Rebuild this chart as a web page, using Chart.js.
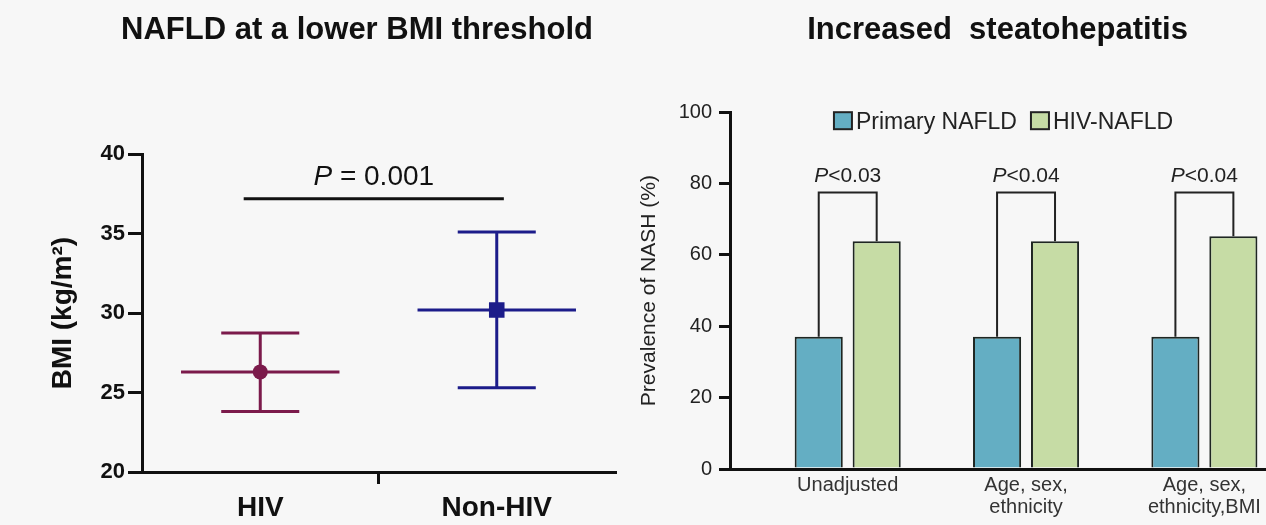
<!DOCTYPE html>
<html>
<head>
<meta charset="utf-8">
<script src="https://cdn.jsdelivr.net/npm/chart.js@4.4.1/dist/chart.umd.min.js"></script>
<style>
  html, body { margin: 0; padding: 0; background: #f7f7f7; }
  #wrap { position: relative; width: 1266px; height: 525px; overflow: hidden; }
  #bmi_chart { position: absolute; left: 0; top: 0; }
  #nash_chart { position: absolute; left: 620px; top: 0; }
</style>
</head>
<body>
<div id="wrap">
  <canvas id="bmi_chart" width="730" height="525"></canvas>
  <canvas id="nash_chart" width="646" height="525"></canvas>
</div>
<script>
const FONT = "'Liberation Sans', Arial, sans-serif";

// Left panel: BMI mean with spread
const bmiGroups = ['HIV', 'Non-HIV'];
const bmiMean = [26.3, 30.2];
const bmiLow = [23.8, 25.3];
const bmiHigh = [28.75, 35.1];
const bmiColors = ['#7b1a4b', '#1c1c8a'];
const bmiMarkers = ['circle', 'rect'];
const bmiPText = ' = 0.001';
const bmiPLevel = 37.2;

// Right panel: prevalence of NASH
const nashLabels = [['Unadjusted'], ['Age, sex,', 'ethnicity'], ['Age, sex,', 'ethnicity,BMI']];
const primaryNafld = [37.1, 37.1, 37.1];
const hivNafld = [63.8, 63.8, 65.2];
const nashP = ['<0.03', '<0.04', '<0.04'];
const nashBracket = 77.5;

Chart.defaults.font.family = FONT;
Chart.defaults.color = '#111';

// "P" in italics, rest upright, centred on cx
function drawP(ctx, cx, baseline, rest, size, color) {
    ctx.save();
    ctx.fillStyle = color;
    ctx.textBaseline = 'alphabetic';
    ctx.textAlign = 'left';
    ctx.font = `italic ${size}px ${FONT}`;
    const wp = ctx.measureText('P').width;
    ctx.font = `${size}px ${FONT}`;
    const wr = ctx.measureText(rest).width;
    const x = cx - (wp + wr) / 2;
    ctx.font = `italic ${size}px ${FONT}`;
    ctx.fillText('P', x, baseline);
    ctx.font = `${size}px ${FONT}`;
    ctx.fillText(rest, x + wp, baseline);
    ctx.restore();
}

const errorBars = {
    id: 'errorBars',
    beforeDatasetsDraw(chart) {
        const { ctx, scales: { x, y } } = chart;
        const cw = x.width / bmiGroups.length;
        ctx.save();
        ctx.lineWidth = 3;
        bmiGroups.forEach((g, i) => {
            const px = x.getPixelForValue(i);
            const pm = y.getPixelForValue(bmiMean[i]);
            const plo = y.getPixelForValue(bmiLow[i]);
            const phi = y.getPixelForValue(bmiHigh[i]);
            ctx.strokeStyle = bmiColors[i];
            ctx.beginPath();
            ctx.moveTo(px - cw * 0.335, pm); ctx.lineTo(px + cw * 0.335, pm);
            ctx.moveTo(px, plo); ctx.lineTo(px, phi);
            ctx.moveTo(px - cw * 0.165, plo); ctx.lineTo(px + cw * 0.165, plo);
            ctx.moveTo(px - cw * 0.165, phi); ctx.lineTo(px + cw * 0.165, phi);
            ctx.stroke();
        });
        // significance line
        const ly = y.getPixelForValue(bmiPLevel);
        const x0 = x.getPixelForValue(0) - cw * 0.07;
        const x1 = x.getPixelForValue(1) + cw * 0.03;
        ctx.strokeStyle = '#111';
        ctx.beginPath();
        ctx.moveTo(x0, ly); ctx.lineTo(x1, ly);
        ctx.stroke();
        ctx.restore();
        drawP(ctx, (x0 + x1) / 2, ly - 14, bmiPText, 28, '#111');
    }
};

const brackets = {
    id: 'brackets',
    afterDatasetsDraw(chart) {
        const { ctx, scales: { y } } = chart;
        const a = chart.getDatasetMeta(0).data;
        const b = chart.getDatasetMeta(1).data;
        const top = y.getPixelForValue(nashBracket);
        ctx.save();
        ctx.strokeStyle = '#222';
        ctx.lineWidth = 2;
        nashP.forEach((p, i) => {
            ctx.beginPath();
            ctx.moveTo(a[i].x, a[i].y);
            ctx.lineTo(a[i].x, top);
            ctx.lineTo(b[i].x, top);
            ctx.lineTo(b[i].x, b[i].y);
            ctx.stroke();
            drawP(ctx, (a[i].x + b[i].x) / 2, top - 10, p, 21, '#222');
        });
        ctx.restore();
    }
};

// legend drawn inside the plot area, near the top
const insideLegend = {
    id: 'insideLegend',
    afterDraw(chart) {
        const { ctx, chartArea } = chart;
        const sets = chart.data.datasets;
        const box = 18, gapText = 4, gapItem = 14;
        ctx.save();
        ctx.font = `23px ${FONT}`;
        const widths = sets.map(d => box + gapText + ctx.measureText(d.label).width);
        const total = widths.reduce((s, w) => s + w, 0) + gapItem * (sets.length - 1);
        let x = (chartArea.left + chartArea.right) / 2 - total / 2 + 6;
        const cy = chartArea.top + 9;
        sets.forEach((d, i) => {
            ctx.fillStyle = d.backgroundColor;
            ctx.fillRect(x, cy - box / 2, box, box - 1);
            ctx.strokeStyle = '#222';
            ctx.lineWidth = 2;
            ctx.strokeRect(x, cy - box / 2, box, box - 1);
            ctx.fillStyle = '#222';
            ctx.textBaseline = 'middle';
            ctx.fillText(d.label, x + box + gapText, cy + 1);
            x += widths[i] + gapItem;
        });
        ctx.restore();
    }
};

new Chart(document.getElementById('bmi_chart'), {
    type: 'line',
    data: {
        labels: bmiGroups,
        datasets: [{
            data: bmiMean,
            showLine: false,
            pointStyle: bmiMarkers,
            pointRadius: [7.5, 11],
            pointBackgroundColor: bmiColors,
            pointBorderColor: bmiColors,
            pointBorderWidth: 0,
        }],
    },
    options: {
        responsive: false,
        animation: false,
        events: [],
        layout: { padding: { left: 20, right: 36, top: 0, bottom: 0 } },
        plugins: {
            legend: { display: false },
            tooltip: { enabled: false },
            title: {
                display: true,
                text: 'NAFLD at a lower BMI threshold',
                color: '#111',
                font: { size: 31, weight: 'bold' },
                padding: { top: 12, bottom: 105 },
            },
        },
        scales: {
            x: {
                offset: true,
                afterFit: (s) => { s.height = 53; },
                border: { color: '#111', width: 3 },
                grid: {
                    offset: true,
                    drawOnChartArea: false,
                    tickLength: 12,
                    lineWidth: 3,
                    color: (c) => c.index === 1 ? '#111' : 'rgba(0,0,0,0)',
                },
                ticks: { font: { size: 28, weight: 'bold' }, color: '#111', padding: 7 },
            },
            y: {
                min: 20,
                max: 40,
                afterFit: (s) => { s.width = 122; },
                border: { color: '#111', width: 3 },
                grid: { drawOnChartArea: false, tickLength: 14, lineWidth: 3, color: '#111' },
                ticks: { stepSize: 5, font: { size: 22, weight: 'bold' }, color: '#111', padding: 3 },
                title: {
                    display: true,
                    text: 'BMI (kg/m²)',
                    color: '#111',
                    font: { size: 28, weight: 'bold' },
                    padding: { top: 26, bottom: 22 },
                },
            },
            // empty spacer on the right so the title centres over the whole panel
            spacer: {
                type: 'linear',
                position: 'right',
                afterFit: (s) => { s.width = 79; },
                border: { display: false },
                grid: { display: false, drawTicks: false },
                ticks: { display: false },
            },
        },
    },
    plugins: [errorBars],
});

new Chart(document.getElementById('nash_chart'), {
    type: 'bar',
    data: {
        datasets: [
            {
                label: 'Primary NAFLD',
                data: primaryNafld.map((v, i) => ({ x: i, y: v })),
                backgroundColor: '#64aec3',
                borderColor: '#1e2622',
                borderWidth: 2,
            },
            {
                label: 'HIV-NAFLD',
                data: hivNafld.map((v, i) => ({ x: i, y: v })),
                backgroundColor: '#c6dca5',
                borderColor: '#1e2622',
                borderWidth: 2,
            },
        ],
    },
    options: {
        responsive: false,
        animation: false,
        events: [],
        layout: { padding: { left: 0, right: 0, top: 0, bottom: 0 } },
        datasets: { bar: { categoryPercentage: 0.65, barPercentage: 0.83 } },
        plugins: {
            legend: { display: false },
            tooltip: { enabled: false },
            title: {
                display: true,
                fullSize: false,
                text: 'Increased  steatohepatitis',
                color: '#111',
                font: { size: 31, weight: 'bold' },
                padding: { top: 12, bottom: 63 },
            },
        },
        scales: {
            x: {
                type: 'linear',
                offset: false,
                min: -0.66,
                max: 2.34,
                afterBuildTicks: (s) => { s.ticks = nashLabels.map((l, i) => ({ value: i })); },
                afterFit: (s) => { s.height = 56; },
                border: { color: '#111', width: 3 },
                grid: { display: false, drawTicks: false },
                ticks: {
                    callback: (v) => nashLabels[v],
                    font: { size: 20, lineHeight: 1.1 },
                    color: '#333',
                    padding: 5,
                    autoSkip: false,
                    maxRotation: 0,
                },
            },
            y: {
                min: 0,
                max: 100,
                afterFit: (s) => { s.width = 110; },
                border: { color: '#111', width: 3 },
                grid: { drawOnChartArea: false, tickLength: 11, lineWidth: 3, color: '#111' },
                ticks: { stepSize: 20, font: { size: 20 }, color: '#222', padding: 7 },
                title: {
                    display: true,
                    text: 'Prevalence of NASH (%)',
                    color: '#222',
                    font: { size: 21 },
                    padding: { top: 17, bottom: 16 },
                },
            },
        },
    },
    plugins: [brackets, insideLegend],
});
</script>
</body>
</html>
